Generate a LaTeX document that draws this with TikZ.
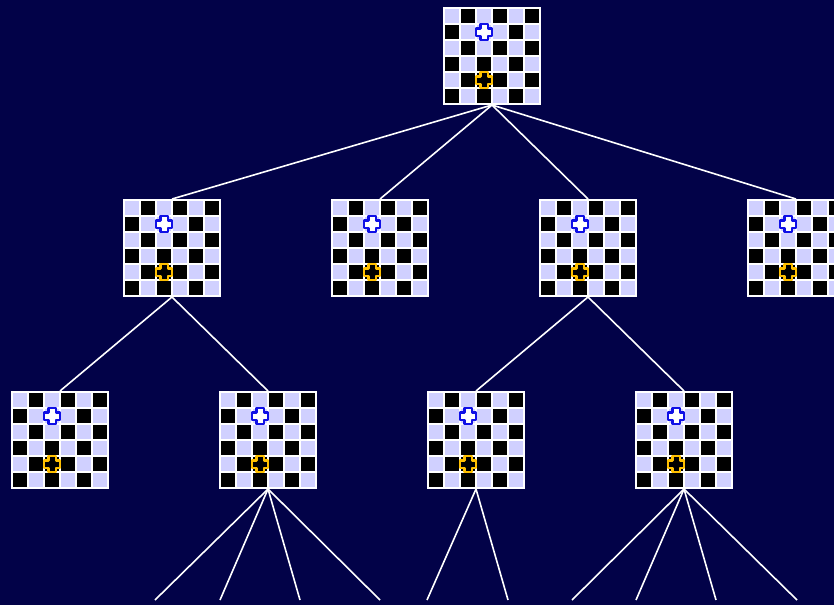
\documentclass[tikz,border=0pt]{standalone}
\definecolor{bgnavy}{RGB}{2,2,72}
\definecolor{lightsq}{RGB}{208,208,255}
\definecolor{bluepc}{RGB}{16,16,230}
\definecolor{goldpc}{RGB}{255,192,0}
\tikzset{
  boardbox/.style={draw=none,fill=white,minimum width=98pt,minimum height=98pt,inner sep=0pt,outer sep=0pt},
  link/.style={draw=white,line width=1.6pt},
  lightcell/.style={fill=lightsq},
  darkcell/.style={fill=black},
  bluepiece/.style={draw=bluepc,fill=white,line width=2.4pt,line join=round},
  goldpiece/.style={draw=goldpc,fill=black,line width=2.4pt,line join=round},
}
\newcommand\crossat[3]{% style, cx, cy
  \path[#1] ({#2-8},{#3-3.7}) -- ({#2-3.7},{#3-3.7}) -- ({#2-3.7},{#3-8}) -- ({#2+3.7},{#3-8}) -- ({#2+3.7},{#3-3.7}) -- ({#2+8},{#3-3.7}) -- ({#2+8},{#3+3.7}) -- ({#2+3.7},{#3+3.7}) -- ({#2+3.7},{#3+8}) -- ({#2-3.7},{#3+8}) -- ({#2-3.7},{#3+3.7}) -- ({#2-8},{#3+3.7}) -- cycle;}
\newcommand\chessboard[3]{% name, center x, center y
  \node[boardbox] (#1) at (#2,#3) {};
  \foreach \r in {0,...,5}{
    \foreach \c in {0,...,5}{
      \pgfmathtruncatemacro\pp{mod(\r+\c,2)}
      \pgfmathtruncatemacro\flip{(\c==2)&&((\r==1)||(\r==4))}
      \pgfmathtruncatemacro\qq{mod(\pp+\flip,2)}
      \ifnum\qq=0
        \fill[lightcell] ({#2-47+16*\c},{#3-47+16*\r}) rectangle ++(14,14);
      \else
        \fill[darkcell] ({#2-47+16*\c},{#3-47+16*\r}) rectangle ++(14,14);
      \fi
    }
  }
  \crossat{bluepiece}{#2-8}{#3-24}
  \crossat{goldpiece}{#2-8}{#3+24}
}
\begin{document}
\begin{tikzpicture}[x=1pt,y=-1pt]
\useasboundingbox (0,0) rectangle (834,605);
\fill[bgnavy] (0,0) rectangle (834,605);
\clip (0,0) rectangle (834,605);
% boards
\chessboard{root}{492}{56}
\chessboard{a}{172}{248}
\chessboard{b}{380}{248}
\chessboard{c}{588}{248}
\chessboard{d}{796}{248}
\chessboard{aa}{60}{440}
\chessboard{ab}{268}{440}
\chessboard{ca}{476}{440}
\chessboard{cb}{684}{440}
% free ends
\coordinate (e1) at (155,600);
\coordinate (e2) at (220,600);
\coordinate (e3) at (300,600);
\coordinate (e4) at (380,600);
\coordinate (e5) at (427,600);
\coordinate (e6) at (508,600);
\coordinate (e7) at (572,600);
\coordinate (e8) at (636,600);
\coordinate (e9) at (716,600);
\coordinate (e10) at (797,600);
% connectors
\draw[link] (root.south) -- (a.north);
\draw[link] (root.south) -- (b.north);
\draw[link] (root.south) -- (c.north);
\draw[link] (root.south) -- (d.north);
\draw[link] (a.south) -- (aa.north);
\draw[link] (a.south) -- (ab.north);
\draw[link] (c.south) -- (ca.north);
\draw[link] (c.south) -- (cb.north);
\draw[link] (ab.south) -- (e1);
\draw[link] (ab.south) -- (e2);
\draw[link] (ab.south) -- (e3);
\draw[link] (ab.south) -- (e4);
\draw[link] (ca.south) -- (e5);
\draw[link] (ca.south) -- (e6);
\draw[link] (cb.south) -- (e7);
\draw[link] (cb.south) -- (e8);
\draw[link] (cb.south) -- (e9);
\draw[link] (cb.south) -- (e10);
\end{tikzpicture}
\end{document}
